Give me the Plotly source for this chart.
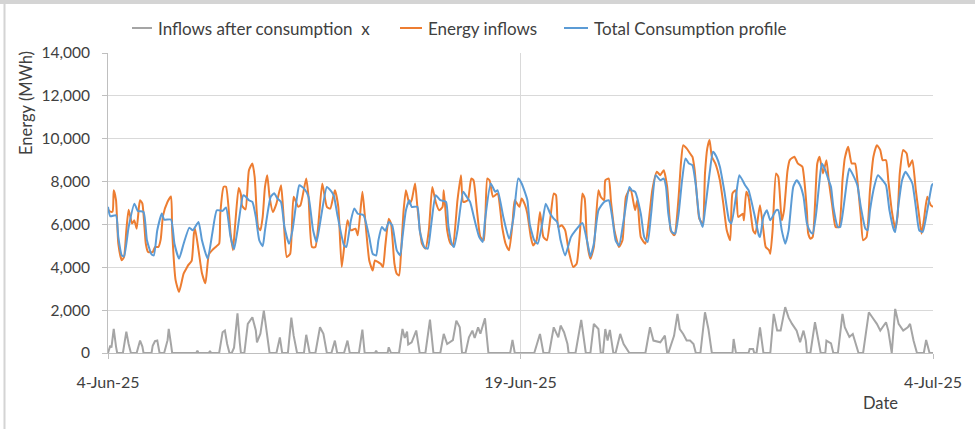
import pandas as pd
import plotly.graph_objects as go

START = "2025-06-04"
END = "2025-07-04"
TICK_DATES = ["2025-06-04", "2025-06-19", "2025-07-04"]
TICK_LABELS = ["4-Jun-25", "19-Jun-25", "4-Jul-25"]
Y_TICKS = [0, 2000, 4000, 6000, 8000, 10000, 12000, 14000]
SERIES_NAMES = ["Inflows after consumption\u00a0 x", "Energy inflows", "Total Consumption profile"]
SERIES_COLORS = ["#A5A5A5", "#ED7D31", "#5B9BD5"]

# (hours since 4-Jun-25 00:00, MWh)
INFLOWS_AFTER_CONSUMPTION = [
    (0,0),(2,350),(3,250),(5,1130),(7,300),(8,0),(13,0),(16,1000),(18,420),(20,0),(25,0),(28,580),(30,300),(31,0),
    (38,0),(39,340),(41,550),(43,580),(45,0),(49,0),(52,600),(53,1130),(55,400),(56,0),(77,0),(78,110),(79,0),
    (88,0),(89,100),(90,0),(97,0),(100,970),(102,1050),(104,420),(106,0),(108,0),(110,250),(113,1850),(115,500),
    (116,0),(119,0),(122,1360),(126,1670),(129,1050),(130,500),(133,900),(136,1980),(138,1200),(141,0),(147,0),
    (150,730),(152,0),(157,0),(160,1650),(162,820),(165,0),(171,0),(173,850),(176,0),(181,0),(185,1200),(188,900),
    (191,0),(195,0),(198,580),(200,0),(206,0),(209,580),(211,0),(219,0),(222,1090),(224,0),(233,0),(234,110),
    (235,0),(244,0),(245,265),(247,0),(254,0),(257,1120),(259,700),(261,1000),(262,400),(265,500),(269,1050),
    (272,0),(277,0),(281,1560),(284,0),(290,0),(293,890),(296,420),(301,600),(304,1510),(307,1200),(309,0),
    (312,0),(315,730),(318,1045),(320,700),(323,1200),(325,900),(329,1620),(332,0),(351,0),(353,610),(355,0),
    (372,0),(377,890),(380,0),(385,0),(389,1200),(393,730),(395,1280),(398,970),(401,420),(402,0),(408,0),
    (413,1545),(417,0),(421,0),(424,1360),(428,1120),(430,0),(432,0),(434,1120),(436,580),(438,1080),(441,0),
    (443,0),(447,890),(450,420),(455,0),(469,0),(473,1200),(476,580),(482,500),(486,810),(488,0),(489,0),
    (494,800),(497,1825),(499,1120),(502,890),(505,580),(508,580),(511,420),(513,0),(517,0),(521,1900),
    (524,1120),(527,0),(545,0),(546,655),(548,0),(559,0),(560,190),(563,190),(564,0),(566,0),(569,1200),(572,0),
    (578,0),(581,1825),(584,1045),(587,1045),(591,2140),(594,1650),(597,1360),(601,1045),(604,500),(607,1045),
    (609,580),(610,0),(613,0),(617,1435),(620,580),(622,0),(626,0),(627,580),(631,450),(633,0),(637,0),
    (641,1825),(643,1200),(647,750),(650,890),(655,0),(659,0),(664,1900),(667,1670),(671,1360),(674,1045),
    (679,1435),(681,1045),(684,0),(687,2060),(690,1360),(694,1045),(698,1200),(700,1360),(703,580),(706,0),
    (712,0),(714,610),(717,0),(720,0),
]

ENERGY_INFLOWS = [
    (0,6700),(2,6600),(4,6600),(5,7600),(7,7130),(9,5100),(12,4330),(14,4480),(16,5725),(18,6690),(21,6040),
    (23,6190),(25,5800),(27,6820),(28,7130),(30,6970),(33,5100),(35,4710),(39,4710),(41,4945),(44,4950),
    (46,5300),(48,6400),(52,7060),(55,7300),(56,5700),(59,3400),(62,2850),(66,3700),(69,4000),(70,4100),
    (73,4300),(75,5580),(76,5800),(79,4800),(82,3720),(85,3250),(88,4600),(91,4800),(94,4950),(97,5100),
    (98,6500),(101,7760),(103,7760),(107,5580),(109,4800),(111,6000),(114,7700),(116,7400),(117,6870),
    (120,6700),(123,8530),(126,8845),(128,8220),(131,5880),(133,5725),(135,6350),(137,7750),(139,8300),
    (141,7290),(144,6580),(147,6970),(151,7830),(153,6580),(156,4480),(159,4630),(162,7290),(166,6820),
    (168,6900),(173,8140),(175,7290),(178,4945),(181,4945),(187,7910),(191,6820),(194,6740),(198,7600),
    (201,6820),(204,4010),(209,6190),(212,5725),(216,5800),(218,5490),(222,7520),(224,6500),(228,4320),
    (231,3850),(233,4320),(238,4160),(240,4010),(242,5000),(245,6270),(247,6040),(250,4165),(252,3700),
    (254,3620),(256,4945),(258,6660),(260,7600),(263,6970),(265,7130),(268,7910),(270,6820),(274,5100),
    (277,4870),(280,5725),(283,7750),(286,7050),(289,6660),(292,6820),(293,7600),(296,5725),(299,5100),
    (301,5020),(305,7130),(308,8300),(310,7050),(314,7130),(317,8140),(319,8060),(322,6660),(325,5410),
    (328,5260),(331,8140),(333,8060),(336,7290),(340,7440),(344,5880),(347,5100),(350,4790),(353,6040),
    (355,7130),(359,6820),(361,7210),(364,6900),(366,6500),(369,5410),(371,5020),(374,5260),(377,6580),
    (380,5410),(383,5260),(386,6270),(389,7440),(391,7360),(393,5880),(396,5960),(399,5725),(402,4790),
    (406,4010),(409,4165),(412,5725),(414,7440),(416,7210),(418,5260),(421,4400),(424,4945),(428,7600),
    (430,7290),(433,7130),(434,8060),(437,8140),(439,7050),(442,5725),(446,4945),(449,5260),(452,7290),
    (456,7680),(460,6660),(462,7130),(465,5410),(469,5100),(472,6190),(475,7600),(479,8455),(482,8300),
    (485,8530),(488,7750),(490,6350),(491,5725),(494,5490),(495,5570),(498,7290),(500,8845),(502,9700),
    (505,9550),(508,9310),(510,9160),(512,8530),(514,7290),(516,6270),(519,6040),(521,8380),(523,9550),
    (525,9940),(527,9160),(530,8845),(534,8060),(537,6970),(540,5725),(543,5260),(545,7450),(548,7600),
    (550,6350),(554,6500),(555,6190),(557,7520),(559,7290),(563,5725),(565,5570),(569,6900),(572,5725),
    (574,4945),(577,4790),(578,4630),(580,5725),(583,8380),(585,8220),(588,6190),(590,6660),(593,8500),
    (595,9000),(599,9160),(602,8845),(606,8690),(607,8380),(610,6570),(611,5600),(613,5335),(615,5410),
    (617,6900),(619,8845),(621,9160),(624,8380),(627,9000),(629,8060),(632,6900),(635,5880),(638,5880),
    (641,8060),(643,9080),(646,9625),(649,8845),(652,8845),(654,8060),(657,6350),(659,5260),(662,5410),
    (665,7600),(668,9160),(671,9700),(674,9470),(676,9000),(679,9000),(681,8060),(684,6660),(687,5800),
    (689,6350),(691,8380),(694,9470),(697,9310),(699,8690),(702,9000),(705,7600),(708,6350),(710,5570),
    (712,6190),(715,7290),(718,6900),(720,6820),
]

TOTAL_CONSUMPTION = [
    (0,6820),(2,6380),(7,6430),(9,5410),(12,4555),(14,4510),(18,5880),(23,6970),(26,6630),(31,6580),(34,5260),
    (38,4600),(40,4555),(43,5725),(47,6505),(49,6225),(55,6225),(58,5100),(62,4400),(66,5100),(71,5850),
    (74,5725),(79,6115),(82,5260),(87,4400),(91,5570),(95,6660),(100,6630),(103,6790),(107,5410),(110,4840),
    (113,5725),(118,7360),(120,7300),(123,7130),(126,7050),(129,6350),(132,5260),(135,4980),(137,5725),
    (142,7290),(145,7450),(148,7200),(151,7050),(154,5880),(158,5100),(161,5725),(165,7290),(167,7830),
    (171,7680),(175,7290),(179,5725),(182,5180),(185,6040),(191,7750),(194,7600),(197,7360),(200,6500),
    (206,5020),(208,4950),(212,6190),(215,6740),(218,6500),(223,6430),(228,5410),(231,4630),(234,4550),
    (236,5260),(239,5880),(242,5700),(245,6115),(248,5960),(252,4790),(255,4555),(257,5410),(260,6660),
    (263,7130),(265,6820),(270,6820),(272,5725),(276,4945),(279,4870),(282,5960),(286,7360),(290,7130),
    (295,7050),(297,5960),(300,5100),(302,4945),(305,5725),(310,7520),(313,7290),(316,7050),(320,6190),
    (324,5410),(327,5180),(329,6190),(334,7910),(338,7520),(340,7600),(345,6350),(350,5335),(354,6350),
    (358,8140),(361,7910),(366,7130),(368,6040),(372,5260),(375,5100),(379,6040),(382,6970),(386,6500),
    (389,6270),(392,6115),(395,5260),(399,4555),(404,5410),(408,5725),(414,6070),(418,5260),(421,4510),
    (424,5100),(428,6660),(433,7050),(437,7130),(440,6350),(443,5260),(446,5020),(450,6190),(455,7750),
    (457,7600),(460,7520),(465,6500),(468,5410),(471,5180),(474,6500),(478,8300),(482,8060),(485,8140),
    (487,7750),(489,6500),(492,5650),(495,5570),(498,6500),(501,8060),(504,9080),(507,8845),(510,8770),
    (513,7830),(516,6350),(519,5880),(521,6660),(525,8380),(528,9390),(531,9160),(534,8690),(538,7520),
    (542,6190),(544,6040),(548,7290),(551,8300),(556,7830),(559,7600),(564,6500),(568,5490),(569,5410),
    (572,6350),(575,6660),(578,6190),(583,6660),(585,6660),(588,5725),(591,5100),(594,5725),(598,7750),
    (601,8060),(604,7830),(607,7290),(610,6040),(613,5650),(615,5570),(618,6500),(621,8060),(623,8845),
    (626,8530),(629,8060),(631,7750),(633,6820),(637,5880),(639,5880),(642,6820),(645,8060),(647,8610),
    (651,8220),(654,7830),(657,6820),(661,5800),(663,5725),(665,6660),(669,7830),(672,8300),(676,8060),
    (679,7830),(682,6660),(686,5725),(687,5650),(690,6970),(693,8060),(696,8455),(699,8220),(702,7910),
    (705,6820),(708,5725),(711,5650),(715,6660),(719,7830),(720,7910),
]

FONT = "Lato, 'Open Sans', sans-serif"
TEXT = "#404040"
LINE_SHAPES = ["linear", "spline", "spline"]

t0 = pd.Timestamp(START)


def unpack(points):
    return [t0 + pd.Timedelta(hours=h) for h, _ in points], [v for _, v in points]


fig = go.Figure()
for name, color, shape, pts in zip(SERIES_NAMES, SERIES_COLORS, LINE_SHAPES,
                                   [INFLOWS_AFTER_CONSUMPTION, ENERGY_INFLOWS, TOTAL_CONSUMPTION]):
    xs, ys = unpack(pts)
    fig.add_trace(go.Scatter(x=xs, y=ys, mode="lines", name=name,
                             line=dict(color=color, width=2, shape=shape, smoothing=0.5),
                             showlegend=False))

# pixel -> paper helpers (plot area: x 108..933, y 53..353)
W, H = 975, 429
L, R, T, B = 108, 42, 53, 76
PW, PH = W - L - R, H - T - B


def px(x):
    return (x - L) / PW


def py(y):
    return (T + PH - y) / PH


shapes = []
annotations = []

# manual legend
legend_items = [(132, 152, 156), (400, 422, 426), (564, 588, 592)]
for (x0, x1, xt), name, color in zip(legend_items, SERIES_NAMES, SERIES_COLORS):
    shapes.append(dict(type="line", xref="paper", yref="paper", x0=px(x0), x1=px(x1),
                       y0=py(28), y1=py(28), line=dict(color=color, width=2)))
    annotations.append(dict(text=name, xref="paper", yref="paper", x=px(xt), y=py(28),
                            xanchor="left", yanchor="middle", showarrow=False,
                            font=dict(family=FONT, size=17, color=TEXT)))

# outer frame (top and left edges)
shapes.append(dict(type="line", xref="paper", yref="paper", x0=px(0), x1=px(W),
                   y0=py(2), y1=py(2), layer="above", line=dict(color="#d4d4d4", width=4)))
shapes.append(dict(type="line", xref="paper", yref="paper", x0=px(4.5), x1=px(4.5),
                   y0=py(2), y1=py(H), layer="above", line=dict(color="#d4d4d4", width=2)))

annotations.append(dict(text="Energy (MWh)", xref="paper", yref="paper", x=px(26), y=py(103),
                        textangle=-90, showarrow=False, xanchor="center", yanchor="middle",
                        font=dict(family=FONT, size=16.5, color=TEXT)))
annotations.append(dict(text="Date", xref="paper", yref="paper", x=px(880), y=py(403),
                        showarrow=False, xanchor="center", yanchor="middle",
                        font=dict(family=FONT, size=16.5, color=TEXT)))

fig.update_layout(
    width=W, height=H,
    margin=dict(l=L, r=R, t=T, b=B),
    paper_bgcolor="white", plot_bgcolor="white",
    font=dict(family=FONT, size=15, color=TEXT),
    showlegend=False,
    shapes=shapes, annotations=annotations,
    xaxis=dict(type="date", range=[START, END], tickvals=TICK_DATES, ticktext=TICK_LABELS,
               showgrid=True, gridcolor="#d9d9d9", gridwidth=1,
               showline=True, linecolor="#bfbfbf", linewidth=1,
               ticks="outside", ticklen=5, tickcolor="#bfbfbf",
               ticklabelstandoff=10, zeroline=False,
               tickfont=dict(family=FONT, size=16, color=TEXT)),
    yaxis=dict(range=[0, 14000], tickvals=Y_TICKS, tickformat=",",
               showgrid=True, gridcolor="#d9d9d9", gridwidth=1,
               showline=True, linecolor="#bfbfbf", linewidth=1,
               ticks="outside", ticklen=5, tickcolor="#bfbfbf",
               ticklabelstandoff=9, zeroline=False,
               tickfont=dict(family=FONT, size=15.5, color=TEXT)),
)

fig.write_html("out.html", config={"displayModeBar": False},
               post_script="document.body.style.margin='0px';")
